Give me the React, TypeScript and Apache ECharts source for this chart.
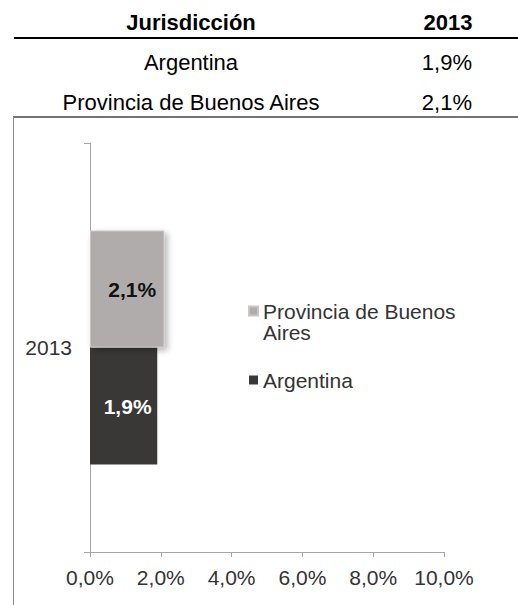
import React, { useEffect, useRef } from "react";
import * as echarts from "echarts";

const categories = ["2013"];
const jurisdictions = ["Argentina", "Provincia de Buenos Aires"];
const argentinaValues = [1.9];
const provinciaValues = [2.1];
const xTicks = { min: 0, max: 10, interval: 2 };
const tableHeader = ["Jurisdicción", "2013"];

const fmt = (v: number) => v.toFixed(1).replace(".", ",") + "%";
const FONT = "Arial, 'Liberation Sans', sans-serif";

export default function App() {
  const ref = useRef<HTMLDivElement>(null);
  useEffect(() => {
    if (!ref.current) return;
    const chart = echarts.init(ref.current, undefined, { renderer: "svg" });
    const tableValues = [argentinaValues[0], provinciaValues[0]].map(fmt);
    const rowY = [62, 102];
    const graphics: any[] = [
      { type: "text", x: 191, y: 22, style: { text: tableHeader[0], font: `bold 22px ${FONT}`, fill: "#000", align: "center", verticalAlign: "middle" } },
      { type: "text", x: 448, y: 22, style: { text: tableHeader[1], font: `bold 22px ${FONT}`, fill: "#000", align: "center", verticalAlign: "middle" } },
      { type: "line", shape: { x1: 14, y1: 38, x2: 518, y2: 38 }, style: { stroke: "#000", lineWidth: 2 } },
      { type: "line", shape: { x1: 13, y1: 117, x2: 518, y2: 117 }, style: { stroke: "#444", lineWidth: 1.5 } },
      { type: "line", shape: { x1: 13.5, y1: 117, x2: 13.5, y2: 605 }, style: { stroke: "#8c8c8c", lineWidth: 1 } },
    ];
    jurisdictions.forEach((j, i) => {
      graphics.push({ type: "text", x: 191, y: rowY[i], style: { text: j, font: `22px ${FONT}`, fill: "#000", align: "center", verticalAlign: "middle" } });
      graphics.push({ type: "text", x: 472, y: rowY[i], style: { text: tableValues[i], font: `22px ${FONT}`, fill: "#000", align: "right", verticalAlign: "middle" } });
    });

    chart.setOption({
      animation: false,
      backgroundColor: "#fff",
      textStyle: { fontFamily: FONT },
      grid: { left: 90, right: 74, top: 143, height: 409, containLabel: false },
      xAxis: {
        type: "value",
        min: xTicks.min,
        max: xTicks.max,
        interval: xTicks.interval,
        splitLine: { show: false },
        axisLine: { show: true, lineStyle: { color: "#a6a6a6", width: 1 } },
        axisTick: { show: true, length: 5, lineStyle: { color: "#a6a6a6" } },
        axisLabel: { formatter: (v: number) => fmt(v), fontSize: 21, color: "#333", margin: 15, fontFamily: FONT },
      },
      yAxis: {
        type: "category",
        data: categories,
        axisLine: { show: true, lineStyle: { color: "#a6a6a6", width: 1 } },
        axisTick: { show: true, length: 6, lineStyle: { color: "#a6a6a6" } },
        axisLabel: { fontSize: 21, color: "#333", margin: 18, fontFamily: FONT },
      },
      legend: {
        orient: "vertical",
        left: 248,
        top: 279.5,
        padding: 0,
        itemWidth: 9,
        itemHeight: 9,
        itemGap: 27,
        icon: "rect",
        data: [jurisdictions[1], jurisdictions[0]],
        formatter: (name: string) => (name === jurisdictions[1] ? "\nProvincia de Buenos\nAires" : name),
        textStyle: { fontSize: 21, color: "#333", lineHeight: 21, fontFamily: FONT },
      },
      series: [
        {
          name: jurisdictions[1],
          type: "bar",
          data: provinciaValues,
          barWidth: 117,
          barGap: "0%",
          z: 3,
          itemStyle: { color: "#b0acab", borderColor: "#c8c5c4", borderWidth: 1, shadowBlur: 6, shadowColor: "rgba(0,0,0,0.3)", shadowOffsetX: 3, shadowOffsetY: 3 },
          label: { show: true, position: "inside", offset: [5, 0], formatter: (p: any) => fmt(p.value), color: "#111", fontWeight: "bold", fontSize: 21, fontFamily: FONT },
        },
        {
          name: jurisdictions[0],
          type: "bar",
          data: argentinaValues,
          barWidth: 117,
          barGap: "0%",
          z: 2,
          itemStyle: { color: "#3a3837" },
          label: { show: true, position: "inside", offset: [4, 0], formatter: (p: any) => fmt(p.value), color: "#fff", fontWeight: "bold", fontSize: 21, fontFamily: FONT },
        },
      ],
      graphic: graphics,
    });
    return () => chart.dispose();
  }, []);
  return <div ref={ref} style={{ position: "fixed", left: 0, top: 0, width: 518, height: 605 }} />;
}
